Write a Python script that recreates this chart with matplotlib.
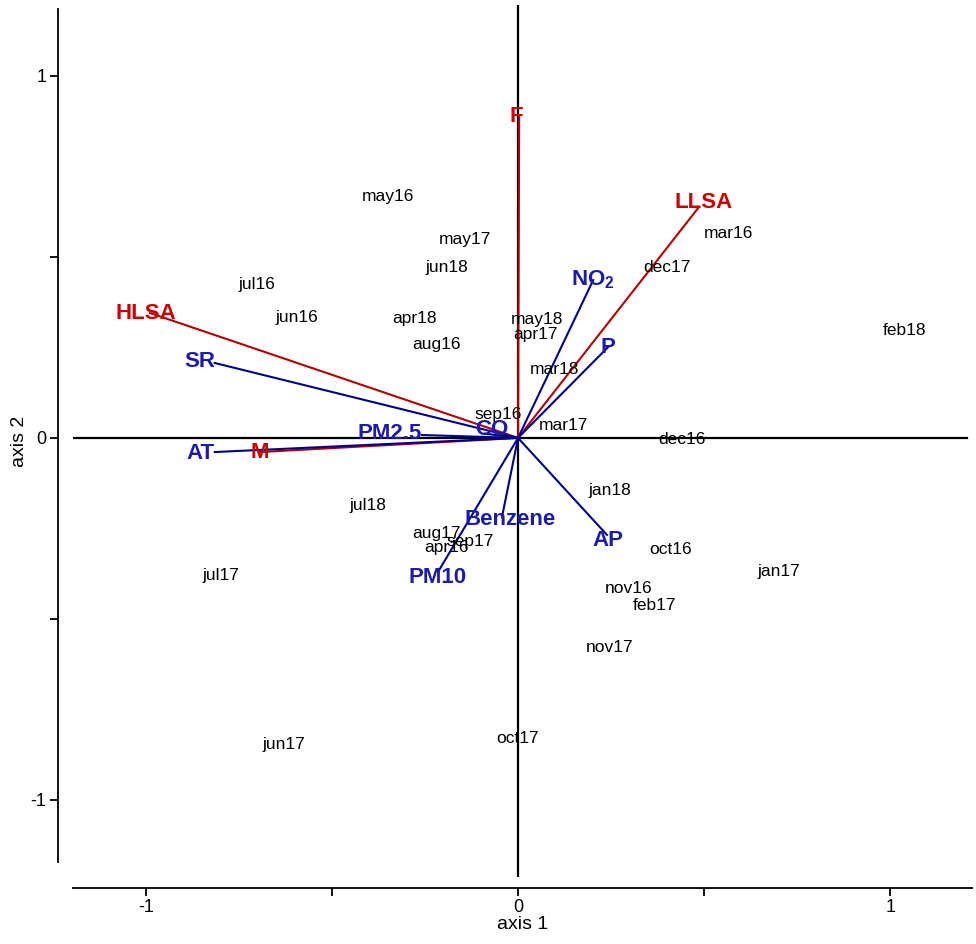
# Biplot of sampling months and environmental / biological vectors.

import matplotlib
matplotlib.use('Agg')
import matplotlib.pyplot as plt

plt.rcParams['font.family'] = ['Liberation Sans', 'DejaVu Sans']
plt.rcParams['mathtext.fontset'] = 'custom'
plt.rcParams['mathtext.rm'] = 'Liberation Sans'
plt.rcParams['mathtext.bf'] = 'Liberation Sans:bold'

# Sample (month) scores.
months = ['may16', 'may17', 'jun18', 'jul16', 'jun16', 'apr18', 'aug16', 'may18',
          'apr17', 'mar18', 'dec17', 'mar16', 'feb18', 'sep16', 'mar17', 'dec16',
          'jan18', 'oct16', 'jan17', 'nov16', 'feb17', 'nov17', 'jul18', 'aug17',
          'sep17', 'apr16', 'jul17', 'jun17', 'oct17']
month_x = [-0.349, -0.142, -0.191, -0.702, -0.594, -0.277, -0.218, 0.051,
           0.048, 0.099, 0.400, 0.565, 1.038, -0.054, 0.121, 0.441,
           0.247, 0.409, 0.702, 0.296, 0.366, 0.247, -0.403, -0.218,
           -0.129, -0.191, -0.798, -0.629, 0.000]
month_y = [0.666, 0.547, 0.472, 0.425, 0.334, 0.329, 0.257, 0.326,
           0.287, 0.190, 0.470, 0.566, 0.296, 0.066, 0.033, -0.003,
           -0.146, -0.307, -0.370, -0.417, -0.464, -0.580, -0.188, -0.265,
           -0.287, -0.304, -0.381, -0.848, -0.831]

# Biological vectors (red).
bio_names = ['HLSA', 'M', 'F', 'LLSA']
bio_x = [-0.989, -0.694, 0.003, 0.484]
bio_y = [0.345, -0.039, 0.887, 0.635]

# Environmental vectors (blue).
env_names = ['SR', 'AT', 'PM2.5', 'CO', r'$\mathbf{NO_2}$', 'P', 'AP', 'Benzene', 'PM10']
env_x = [-0.815, -0.815, -0.258, -0.090, 0.202, 0.242, 0.239, -0.043, -0.215]
env_y = [0.207, -0.039, 0.008, 0.012, 0.436, 0.251, -0.268, -0.218, -0.370]

# Label nudges in points (label, dx, dy).
nudge = {'HLSA': (-3, 0), 'SR': (-11, 1), 'AT': (-10, -1), 'PM2.5': (-23, 1),
         'CO': (5, 3), 'AP': (1, -4), 'Benzene': (6, -2), 'PM10': (0, -4),
         'LLSA': (4, 4), 'F': (-2, 0)}

red_line, red_text = '#b00000', '#cc0000'
blue_line, blue_text = '#00008f', '#1c1ca8'

fig = plt.figure(figsize=(9.76, 9.44), dpi=100)
ax = fig.add_axes([73 / 976, 67 / 944, 899 / 976, 872 / 944])
ax.set_xlim(-1.196, 1.220)
ax.set_ylim(-1.213, 1.196)

# Zero lines.
ax.plot([-1.202, 1.207], [0, 0], color='black', lw=1.6, zorder=1)
ax.axvline(0, color='black', lw=1.6, zorder=1)

# Vectors.
for names, xs, ys, lc, tc in [(bio_names, bio_x, bio_y, red_line, red_text),
                               (env_names, env_x, env_y, blue_line, blue_text)]:
    for name, x, y in zip(names, xs, ys):
        ax.plot([0, x], [0, y], color=lc, lw=1.5, zorder=2)
        dx, dy = nudge.get(name, (0, 0))
        ax.annotate(name, xy=(x, y), xytext=(dx, dy), textcoords='offset points',
                    ha='center', va='center', fontsize=16, fontweight='bold',
                    color=tc, zorder=3)

# Month labels.
for name, x, y in zip(months, month_x, month_y):
    ax.text(x, y, name, ha='center', va='center', fontsize=12.5, color='black', zorder=4)

# Axes styling.
for side in ['top', 'right']:
    ax.spines[side].set_visible(False)
ax.spines['left'].set_position(('outward', 11))
ax.spines['left'].set_bounds(-1.171, 1.185)
ax.spines['bottom'].set_position(('outward', 8))
ax.spines['left'].set_linewidth(1.3)
ax.spines['bottom'].set_linewidth(1.3)

ax.set_xticks([-1, 0, 1])
ax.set_xticklabels(['-1', '0', '1'])
ax.set_xticks([-0.5, 0.5], minor=True)
ax.set_yticks([-1, 0, 1])
ax.set_yticklabels(['-1', '0', '1'])
ax.set_yticks([-0.5, 0.5], minor=True)
ax.tick_params(which='both', length=6, width=1.3, labelsize=13, pad=2)

ax.set_xlabel('axis 1', fontsize=14, labelpad=0)
ax.set_ylabel('axis 2', fontsize=14, labelpad=2)

fig.savefig('out.png', dpi=100)
